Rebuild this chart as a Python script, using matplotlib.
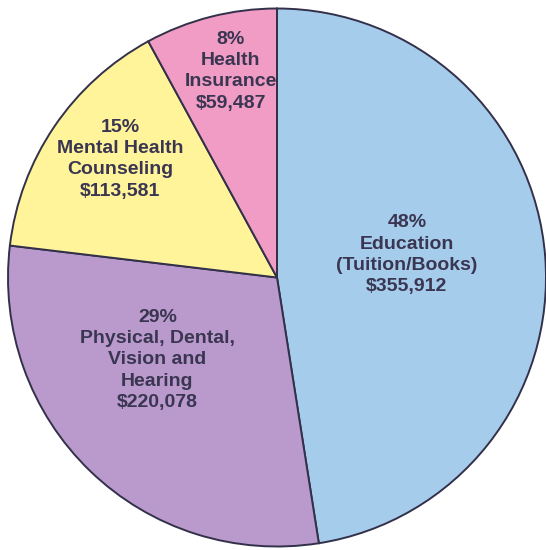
import numpy as np
import matplotlib
matplotlib.use("Agg")
from matplotlib import pyplot as plt

categories = ["Education\n(Tuition/Books)", "Physical, Dental,\nVision and\nHearing",
              "Mental Health\nCounseling", "Health\nInsurance"]
amounts = [355912, 220078, 113581, 59487]
percent_labels = ["48%", "29%", "15%", "8%"]
amount_labels = ["$355,912", "$220,078", "$113,581", "$59,487"]

colors = ["#A6CCEC", "#BA9ACC", "#FFF49A", "#F09CC4"]
# label placement: (distance from centre as fraction of radius, angle offset from wedge middle)
label_dist = [0.49, 0.54, 0.73, 0.785]
label_shift = [5.5, -11.5, -2.9, -1.7]

plt.rcParams['font.family'] = ['Liberation Sans', 'DejaVu Sans']

fig = plt.figure(figsize=(5.46, 5.5), dpi=100)
ax = fig.add_axes([8 / 546, 3.5 / 550, 538 / 546, 538 / 550])

wedges, _ = ax.pie(amounts, colors=colors, startangle=90, counterclock=False,
                   wedgeprops=dict(edgecolor="#33304a", linewidth=1.4))

for w, cat, pct, amt, d, s in zip(wedges, categories, percent_labels, amount_labels,
                                  label_dist, label_shift):
    ang = np.deg2rad((w.theta1 + w.theta2) / 2 + s)
    ax.text(d * np.cos(ang), d * np.sin(ang), f"{pct}\n{cat}\n{amt}",
            ha="center", va="center", fontsize=14, fontweight="bold",
            color="#3a3652", linespacing=1.32)

ax.set_xlim(-1, 1)
ax.set_ylim(-1, 1)
ax.set_aspect("equal")
ax.axis("off")

fig.savefig("out.png", dpi=100)
